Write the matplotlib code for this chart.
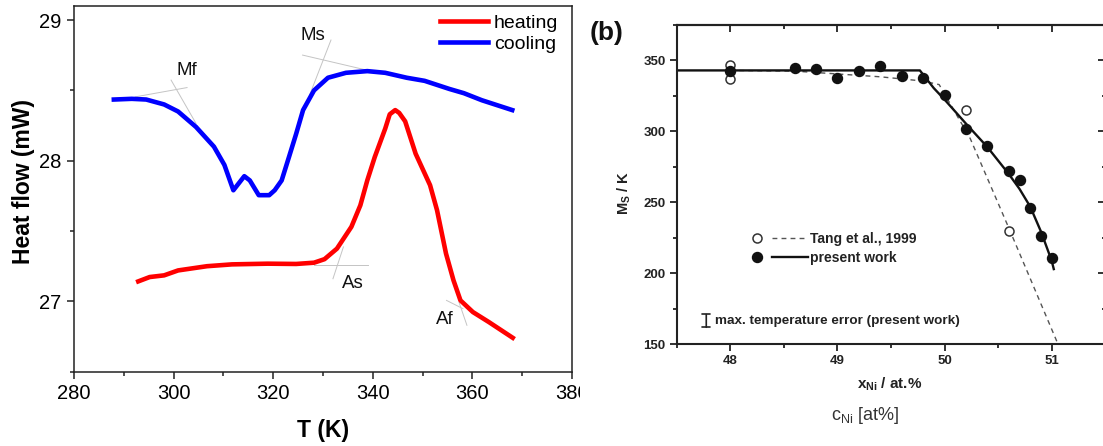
import matplotlib
matplotlib.use("Agg")
import matplotlib.pyplot as plt
from matplotlib.ticker import MultipleLocator
from matplotlib.lines import Line2D
from matplotlib.legend_handler import HandlerTuple
from matplotlib.patches import Rectangle

plt.rcParams['font.family'] = ['Liberation Sans', 'DejaVu Sans']
plt.rcParams['mathtext.fontset'] = 'custom'
plt.rcParams['mathtext.rm'] = 'Liberation Sans'
plt.rcParams['mathtext.bf'] = 'Liberation Sans:bold'
plt.rcParams['mathtext.it'] = 'Liberation Sans:italic'

# ---- (a) DSC curves ----
cool_T = [288.0, 291.6, 294.5, 298.1, 300.9, 304.5, 308.1, 310.2, 312.0, 313.1, 314.2,
          315.3, 317.1, 319.2, 320.3, 321.7, 323.2, 324.6, 326.0, 328.2, 331.0, 334.6,
          338.9, 342.5, 346.8, 350.4, 355.4, 358.3, 361.9, 368.0]
cool_q = [28.435, 28.44, 28.435, 28.40, 28.35, 28.24, 28.10, 27.97, 27.79, 27.84, 27.89,
          27.86, 27.755, 27.755, 27.79, 27.86, 28.03, 28.19, 28.36, 28.50, 28.59, 28.625,
          28.637, 28.625, 28.59, 28.568, 28.51, 28.48, 28.43, 28.36]
heat_T = [292.9, 295.2, 298.1, 300.9, 306.7, 311.7, 318.9, 324.6, 328.2, 330.3, 332.8,
          335.7, 337.5, 338.9, 340.4, 342.5, 343.4, 344.5, 345.3, 346.5, 348.6, 351.5,
          352.9, 354.7, 356.2, 357.6, 360.1, 363.3, 368.1]
heat_q = [27.142, 27.173, 27.185, 27.22, 27.25, 27.263, 27.268, 27.266, 27.275, 27.30,
          27.375, 27.53, 27.683, 27.861, 28.027, 28.229, 28.33, 28.36, 28.34, 28.28,
          28.05, 27.826, 27.648, 27.34, 27.15, 27.007, 26.924, 26.853, 26.741]

onset_names = ['Mf', 'Ms', 'As', 'Af']
onset_T = [302.7, 327.9, 335.9, 354.5]
onset_q = [28.64, 28.89, 27.13, 26.87]
# thin tangent construction lines ((T0, T1), (q0, q1))
tangents = [((292.3, 302.7), (28.454, 28.52)), ((299.5, 304.5), (28.573, 28.265)),
            ((325.9, 338.8), (28.751, 28.644)), ((331.6, 327.3), (28.858, 28.466)),
            ((328.1, 339.1), (27.261, 27.261)), ((334.1, 332.0), (27.387, 27.161)),
            ((354.8, 358.1), (27.007, 26.948)), ((357.3, 358.9), (26.995, 26.83))]

# ---- (b) Ms vs Ni content ----
xni_present = [48.0, 48.6, 48.8, 49.0, 49.2, 49.4, 49.6, 49.8, 50.0, 50.2, 50.4,
               50.6, 50.7, 50.8, 50.9, 51.0]
ms_present = [342.5, 344.8, 344.0, 337.8, 342.7, 345.8, 339.4, 338.0, 325.5, 302.0,
              290.0, 271.8, 265.6, 245.7, 226.6, 210.6]
xni_tang = [48.0, 48.0, 50.2, 50.6]
ms_tang = [346.7, 336.6, 314.8, 229.8]
fit_present_x = [47.5, 49.77, 49.9, 50.0, 50.2, 50.4, 50.6, 50.7, 50.8, 50.9, 51.0, 51.02]
fit_present_y = [343, 343, 330.5, 322.5, 305.5, 289, 270, 259.5, 247, 229.5, 209, 203]
fit_tang_x = [48.0, 48.6, 49.0, 49.4, 49.8, 49.95, 50.24, 50.6, 51.06]
fit_tang_y = [343, 342.5, 340.5, 338.5, 335.5, 333, 295, 232, 150]

W, H = 1103, 446
fig = plt.figure(figsize=(W / 100, H / 100), dpi=100)

# ===== panel (a) =====
axa = fig.add_axes([74 / W, 74.3 / H, 498 / W, 365.7 / H])
for (tx, qy) in tangents:
    axa.plot(tx, qy, color='#c4c4c4', lw=0.7, zorder=1)
axa.plot(heat_T, heat_q, color='#ff0000', lw=3.3, label='heating', zorder=3)
axa.plot(cool_T, cool_q, color='#0000ff', lw=3.3, label='cooling', zorder=3)
for name, t, q in zip(onset_names, onset_T, onset_q):
    axa.text(t, q, name, fontsize=13.5, ha='center', va='center', color='#111111')

axa.set_xlim(280, 380)
axa.set_ylim(26.5, 29.1)
axa.xaxis.set_major_locator(MultipleLocator(20))
axa.xaxis.set_minor_locator(MultipleLocator(10))
axa.yaxis.set_major_locator(MultipleLocator(1))
axa.yaxis.set_minor_locator(MultipleLocator(0.5))
axa.tick_params(which='both', direction='out', width=1.1, color='#222222',
                labelsize=14.5, pad=4)
axa.tick_params(which='major', length=5)
axa.tick_params(which='minor', length=3)
for s in axa.spines.values():
    s.set_linewidth(1.1)
    s.set_color('#222222')
axa.set_xlabel('T (K)', fontsize=16.5, fontweight='bold')
axa.set_ylabel('Heat flow (mW)', fontsize=16.5, fontweight='bold')
axa.xaxis.set_label_coords(0.5, -0.13)
axa.yaxis.set_label_coords(-0.078, 0.52)
axa.legend(loc='upper left', bbox_to_anchor=(0.735, 0.978), frameon=False,
           fontsize=14, handlelength=2.47, handletextpad=0.3, borderpad=0,
           borderaxespad=0, labelspacing=0.2)

# clip the cut-off "380" label like the source image
fig.patches.append(Rectangle((580 / W, 0), 20 / W, 80 / H, transform=fig.transFigure,
                             facecolor='white', edgecolor='none', zorder=10))

# ===== panel (b) =====
axb = fig.add_axes([676.7 / W, 101.7 / H, 428.5 / W, 319.3 / H])
axb.plot(fit_tang_x, fit_tang_y, ls=(0, (3.5, 3)), color='#555555', lw=1.0, zorder=2)
axb.plot(fit_present_x, fit_present_y, color='#111111', lw=1.7, zorder=2)
axb.plot(xni_tang, ms_tang, 'o', mfc='white', mec='#333333', mew=1.1, ms=6.5, zorder=3)
axb.plot(xni_present, ms_present, 'o', color='#111111', ms=7.2, zorder=4)

axb.set_xlim(47.5, 51.5)
axb.set_ylim(150, 375)
axb.xaxis.set_major_locator(MultipleLocator(1))
axb.xaxis.set_minor_locator(MultipleLocator(0.5))
axb.yaxis.set_major_locator(MultipleLocator(50))
axb.yaxis.set_minor_locator(MultipleLocator(25))
axb.tick_params(which='both', direction='out', width=1.3, color='#222222',
                labelsize=9.5, labelcolor='#222222', pad=3)
axb.tick_params(which='major', length=5)
axb.tick_params(which='minor', length=3)
for lbl in axb.get_xticklabels() + axb.get_yticklabels():
    lbl.set_fontweight('bold')
for s in axb.spines.values():
    s.set_linewidth(1.5)
    s.set_color('#222222')

top = axb.secondary_xaxis('top')
top.xaxis.set_major_locator(MultipleLocator(1))
top.xaxis.set_minor_locator(MultipleLocator(0.5))
top.tick_params(which='both', direction='in', width=1.3, color='#222222', labeltop=False)
top.tick_params(which='major', length=5)
top.tick_params(which='minor', length=3)
top.spines['top'].set_linewidth(1.5)
right = axb.secondary_yaxis('right')
right.yaxis.set_major_locator(MultipleLocator(50))
right.yaxis.set_minor_locator(MultipleLocator(25))
right.tick_params(which='both', direction='in', width=1.3, color='#222222', labelright=False)
right.tick_params(which='major', length=5)
right.tick_params(which='minor', length=2.5)

axb.set_xlabel(r'x$_{\mathbf{Ni}}$ / at.%', fontsize=11, fontweight='bold', color='#222222')
axb.set_ylabel(r'M$_{\mathbf{S}}$ / K', fontsize=10.5, fontweight='bold', color='#222222')
axb.xaxis.set_label_coords(0.498, -0.097)
axb.yaxis.set_label_coords(-0.102, 0.474)

h_tang = (Line2D([], [], ls='none', marker='o', mfc='white', mec='#333333', mew=1.1, ms=6.5),
          Line2D([], [], ls=(0, (3.5, 3)), color='#555555', lw=1.0))
h_pres = (Line2D([], [], ls='none', marker='o', color='#111111', ms=7.2),
          Line2D([], [], color='#111111', lw=1.7))
axb.legend([h_tang, h_pres], ['Tang et al., 1999', 'present work'],
           handler_map={tuple: HandlerTuple(ndivide=None, pad=-0.23)},
           loc='upper left', bbox_to_anchor=(0.1442, 0.353), frameon=False,
           prop={'size': 10, 'weight': 'bold'}, handlelength=4.99, handletextpad=0.15,
           borderpad=0, borderaxespad=0, labelspacing=0.36, labelcolor='#222222')

axb.annotate('', xy=(47.776, 162.0), xytext=(47.776, 171.0),
             arrowprops=dict(arrowstyle='|-|,widthA=0.3,widthB=0.3', lw=1.2,
                             color='#222222', shrinkA=0, shrinkB=0))
axb.text(47.86, 166.5, 'max. temperature error (present work)', fontsize=9.7,
         fontweight='bold', va='center', color='#222222')

fig.text(607 / W, 1 - 33 / H, '(b)', fontsize=19, fontweight='bold', ha='center',
         va='center', color='#111111')
fig.text(865 / W, 1 - 415 / H, r'c$_{\mathrm{Ni}}$ [at%]', fontsize=13, ha='center',
         va='center', color='#333333')

fig.savefig('out.png', dpi=100)
